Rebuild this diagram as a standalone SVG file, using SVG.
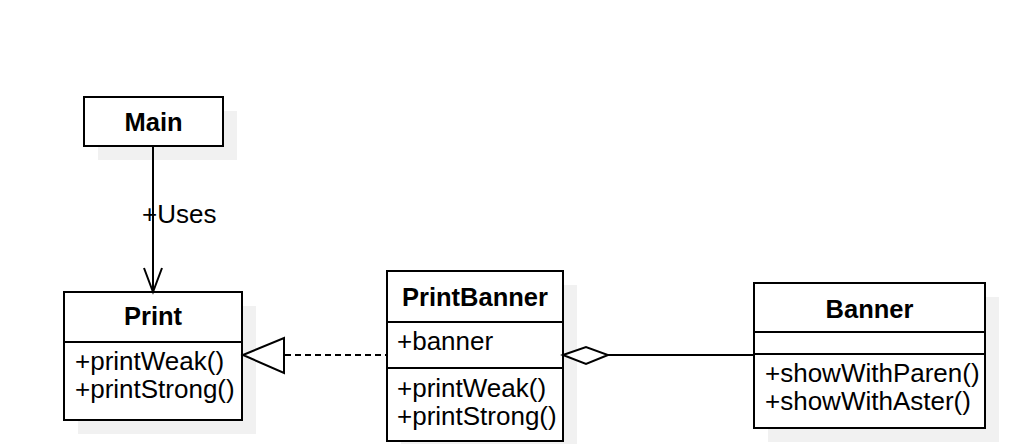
<svg xmlns="http://www.w3.org/2000/svg" width="1020" height="444" viewBox="0 0 1020 444">
<style>
.shadow{fill:#f1f1f1;stroke:none}
.box{fill:#ffffff;stroke:#000000;stroke-width:2}
.div{stroke:#000000;stroke-width:2;fill:none}
.title{font-family:"Liberation Sans",Arial,sans-serif;font-size:25.5px;font-weight:bold;fill:#000000;text-anchor:middle}
.txt{font-family:"Liberation Sans",Arial,sans-serif;font-size:26px;fill:#000000}
.edge{stroke:#000000;stroke-width:2;fill:none}
</style>
<rect x="0" y="0" width="1020" height="444" fill="#ffffff"/>
<g id="Main">
<rect class="shadow" x="98" y="111" width="139" height="49"/>
<rect class="box" x="84" y="97" width="139" height="49"/>
<text class="title" x="153.5" y="131">Main</text>
</g>
<g id="Print">
<rect class="shadow" x="78" y="306" width="178" height="128"/>
<rect class="box" x="64" y="292" width="178" height="128"/>
<line class="div" x1="64" y1="342" x2="242" y2="342"/>
<text class="title" x="153" y="325">Print</text>
<text class="txt" x="75" y="370">+printWeak()</text>
<text class="txt" x="75" y="398">+printStrong()</text>
</g>
<g id="PrintBanner">
<rect class="shadow" x="401" y="285" width="176" height="170"/>
<rect class="box" x="387" y="271" width="176" height="170"/>
<line class="div" x1="387" y1="322" x2="563" y2="322"/>
<line class="div" x1="387" y1="368" x2="563" y2="368"/>
<text class="title" x="475" y="306">PrintBanner</text>
<text class="txt" x="397" y="350">+banner</text>
<text class="txt" x="397" y="397">+printWeak()</text>
<text class="txt" x="397" y="425">+printStrong()</text>
</g>
<g id="Banner">
<rect class="shadow" x="768" y="297" width="231" height="145"/>
<rect class="box" x="754" y="283" width="231" height="145"/>
<line class="div" x1="754" y1="332" x2="985" y2="332"/>
<line class="div" x1="754" y1="354" x2="985" y2="354"/>
<text class="title" x="869.5" y="318">Banner</text>
<text class="txt" x="765" y="382">+showWithParen()</text>
<text class="txt" x="765" y="410">+showWithAster()</text>
</g>
<g id="connectors">
<line class="edge" x1="153" y1="146" x2="153" y2="291"/>
<polyline class="edge" points="144,268 153,292 162,268"/>
<text class="txt" x="142" y="223">+Uses</text>
<line class="edge" x1="285" y1="355" x2="387" y2="355" stroke-dasharray="6 4"/>
<polygon class="edge" points="243,355 284,338 284,373" style="fill:#ffffff"/>
<line class="edge" x1="608" y1="355" x2="754" y2="355"/>
<polygon class="edge" points="563,355 586,347 608,355 586,364" style="fill:#ffffff"/>
</g>
</svg>
